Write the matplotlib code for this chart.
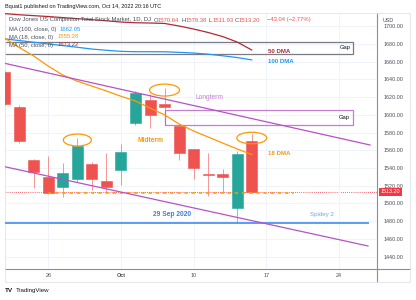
import matplotlib
matplotlib.use('Agg')
import matplotlib.pyplot as plt
from matplotlib.patches import Ellipse, Rectangle
from matplotlib.lines import Line2D

plt.rcParams['font.family'] = ['Liberation Sans', 'DejaVu Sans']

# ---------------- data ----------------
bar_idx = list(range(18))  # Sep 21 ... Oct 14, 2022 (trading days)
opens  = [1648.0, 1608.5, 1549.0, 1529.5, 1519.0, 1527.6, 1544.0, 1525.5, 1538.0,
          1590.5, 1617.0, 1612.0, 1587.4, 1561.0, 1533.0, 1533.0, 1494.5, 1570.64]
highs  = [1649.5, 1611.0, 1550.0, 1553.6, 1546.0, 1573.5, 1547.0, 1557.0, 1567.0,
          1626.5, 1624.0, 1630.0, 1588.5, 1562.0, 1556.6, 1538.6, 1559.5, 1578.38]
lows   = [1611.0, 1568.0, 1517.0, 1510.5, 1507.0, 1524.6, 1515.0, 1513.0, 1521.0,
          1589.0, 1585.0, 1588.5, 1549.0, 1528.0, 1508.4, 1512.0, 1478.0, 1511.93]
closes = [1612.3, 1570.8, 1536.0, 1511.5, 1534.0, 1565.0, 1528.0, 1518.6, 1558.0,
          1625.0, 1600.0, 1608.5, 1556.6, 1540.0, 1532.2, 1530.2, 1556.24, 1513.20]

ma18  = [1686.7, 1676.0, 1666.4, 1655.0, 1645.0, 1638.0, 1632.5, 1627.0, 1621.0,
         1615.6, 1607.7, 1600.0, 1589.7, 1581.8, 1575.0, 1568.2, 1561.5, 1555.28]
ma50  = [1714.3, 1713.0, 1712.0, 1711.0, 1709.8, 1708.6, 1707.5, 1706.2, 1704.8,
         1704.0, 1703.7, 1703.2, 1700.3, 1696.9, 1693.0, 1688.4, 1682.2, 1673.22]
ma100 = [1685.8, 1683.9, 1682.0, 1680.0, 1678.2, 1676.3, 1674.3, 1672.9, 1671.7,
         1671.3, 1671.3, 1671.2, 1670.6, 1669.8, 1668.5, 1666.7, 1664.7, 1662.05]

time_tick_idx = [3, 8, 13, 18, 23]
time_tick_labels = ['26', 'Oct', '10', '17', '24']
price_ticks = list(range(1440, 1701, 20))

# drawings (bar index, price)
longterm_upper = ([0.0, 25.14], [1658.2, 1566.0])
longterm_lower = ([0.0, 25.0], [1541.5, 1452.0])
spidey_level = 1478.3
spidey_span = (0.0, 25.0)
gap_top = (-1.0, 24.0, 1668.4, 1681.9)
gap_low = (11.0, 24.0, 1588.5, 1605.4)
support_level = 1512.3
support_span = (3.0, 19.9)
ellipses = [(5.0, 1571.6, 1.93, 13.5), (11.0, 1628.0, 2.06, 13.5), (17.0, 1573.9, 2.06, 13.0)]
last_close = 1513.20

UP = '#26a69a'
DOWN = '#ef5350'
C18 = '#ff9800'
C50 = '#b22833'
C100 = '#2196f3'
PURP = '#b553c6'

W, H = 416, 300
fig = plt.figure(figsize=(W / 100, H / 100), dpi=100)
fig.patch.set_facecolor('white')

def fx(x):
    return x / W

def fy(y):
    return 1 - y / H

# main chart axes: x 5..377, y 13..269
ax = fig.add_axes([fx(5), fy(269), (377 - 5) / W, (269 - 13) / H])
ax.set_xlim(0.02, 25.62)
ax.set_ylim(1426, 1715)
ax.set_facecolor('white')

# grid
ax.set_xticks(time_tick_idx)
ax.set_xticklabels(time_tick_labels)
ax.set_yticks(price_ticks)
ax.set_yticklabels([f'{v:.2f}' for v in price_ticks])
ax.grid(True, color='#f0f3fa', lw=0.7, zorder=0)
ax.yaxis.tick_right()
ax.tick_params(axis='y', length=0, pad=4.6, labelsize=3.9, labelcolor='#4a4e59')
ax.tick_params(axis='x', length=0, pad=3.0, labelsize=3.9, labelcolor='#4a4e59')
for lab in ax.get_xticklabels():
    if lab.get_text() == 'Oct':
        lab.set_fontweight('bold')
for s in ['left', 'top']:
    ax.spines[s].set_color('#e0e3eb')
    ax.spines[s].set_linewidth(0.6)
for s in ['right', 'bottom']:
    ax.spines[s].set_color('#8a8e99')
    ax.spines[s].set_linewidth(0.8)

# gap boxes
x0, x1, y0, y1 = gap_top
ax.add_patch(Rectangle((x0, y0), x1 - x0, y1 - y0, fill=False, ec='#787b86', lw=0.9, zorder=2))
x0, x1, y0, y1 = gap_low
ax.add_patch(Rectangle((x0, y0), x1 - x0, y1 - y0, fill=False, ec='#c27fd2', lw=0.9, zorder=2))
ax.text(23.83, 1675.6, 'Gap', fontsize=4.2, color='#131722', ha='right', va='center', zorder=6)
ax.text(23.77, 1597.3, 'Gap', fontsize=4.2, color='#131722', ha='right', va='center', zorder=6)

# last close dotted line
ax.axhline(last_close, color='#f23645', lw=0.6, ls=(0, (1, 1.5)), zorder=1)

# support dashed line
ax.plot(support_span, [support_level, support_level], color=C18, lw=1.1,
        ls=(0, (2.2, 2.5)), zorder=5)

# spidey blue level
ax.plot(spidey_span, [spidey_level, spidey_level], color='#5b9cf6', lw=1.4, zorder=3)
ax.text(11.51, 1487, '29 Sep 2020', fontsize=4.8, color='#3d7fe0', ha='center', va='center',
        fontweight='bold', zorder=6)
ax.text(21.8, 1487, 'Spidey 2', fontsize=4.4, color='#6fa4f0', ha='center', va='center', zorder=6)

# candles
for i in bar_idx:
    o, h, l, c = opens[i], highs[i], lows[i], closes[i]
    col = UP if c >= o else DOWN
    ax.vlines(i, l, h, color=col, lw=0.7, alpha=0.6, zorder=3)
    ax.bar(i, c - o, bottom=o, width=0.76, color=col, ec=col, lw=0.4, zorder=4)

# moving averages
ax.plot(bar_idx, ma50, color=C50, lw=0.9, zorder=5)
ax.plot(bar_idx, ma100, color=C100, lw=0.9, zorder=5)
ax.plot(bar_idx, ma18, color=C18, lw=0.9, zorder=5)

# trend lines
ax.plot(*longterm_upper, color=PURP, lw=0.9, zorder=5)
ax.plot(*longterm_lower, color=PURP, lw=0.9, zorder=5)

# ellipses
for (cx, cy, w, hh) in ellipses:
    ax.add_patch(Ellipse((cx, cy), w, hh, fill=False, ec=C18, lw=0.9, zorder=6))

# labels
ax.text(13.1, 1620.1, 'Longterm', fontsize=4.8, color='#c27fd2', ha='left', va='center', zorder=6)
ax.text(9.11, 1571.6, 'Midterm', fontsize=4.8, color=C18, ha='left', va='center',
        fontweight='bold', zorder=6)
ax.text(18.12, 1556.6, '18 DMA', fontsize=4.4, color=C18, ha='left', va='center',
        fontweight='bold', zorder=6)
ax.text(18.12, 1671.3, '50 DMA', fontsize=4.4, color=C50, ha='left', va='center',
        fontweight='bold', zorder=6)
ax.text(18.12, 1660.0, '100 DMA', fontsize=4.4, color=C100, ha='left', va='center',
        fontweight='bold', zorder=6)

# last price label on scale
ax.annotate(f'{last_close:.2f}', xy=(1.0, last_close), xycoords=('axes fraction', 'data'),
            xytext=(2.6, 0), textcoords='offset points', ha='left', va='center',
            fontsize=3.9, color='white', zorder=10, annotation_clip=False,
            bbox=dict(boxstyle='square,pad=0.25', fc='#f23645', ec='none'))

# widget frame lines
fig.add_artist(Line2D([fx(377), fx(410)], [fy(269), fy(269)], color='#8a8e99', lw=0.8))
fig.add_artist(Line2D([fx(377), fx(377)], [fy(269), fy(282)], color='#8a8e99', lw=0.8))
fig.add_artist(Line2D([fx(5), fx(410)], [fy(282), fy(282)], color='#e0e3eb', lw=0.6))
fig.add_artist(Line2D([fx(410), fx(410)], [fy(13), fy(282)], color='#e0e3eb', lw=0.6))
fig.add_artist(Line2D([fx(5), fx(5)], [fy(269), fy(282)], color='#e0e3eb', lw=0.6))
fig.add_artist(Line2D([fx(377), fx(410)], [fy(13), fy(13)], color='#e0e3eb', lw=0.6))

# USD label
fig.text(fx(382.5), fy(20), 'USD', fontsize=3.9, color='#4a4e59', ha='left', va='center')

# header texts
fs_h = 4.2
fig.text(fx(5), fy(6.5), 'Bquat1 published on TradingView.com, Oct 14, 2022 20:16 UTC',
         fontsize=4.0, color='#131722', ha='left', va='center')
fig.text(fx(9), fy(20), 'Dow Jones US Completion Total Stock Market, 1D, DJ',
         fontsize=fs_h, color='#4a4e59', ha='left', va='center')
ohlc = [(154, 'O', '1570.64'), (181.5, 'H', '1578.38'), (208.5, 'L', '1511.93'),
        (234.5, 'C', '1513.20')]
for xp, letter, val in ohlc:
    fig.text(fx(xp), fy(20), letter, fontsize=fs_h, color='#4a4e59', ha='left', va='center')
    fig.text(fx(xp + 3.6), fy(20), val, fontsize=fs_h, color='#ef5350', ha='left', va='center')
fig.text(fx(267), fy(20), '\u221243.04 (\u22122.77%)', fontsize=fs_h, color='#ef5350',
         ha='left', va='center')

ma_rows = [(29.3, 'MA (100, close, 0)', '1662.05', C100, 59.3),
           (37.0, 'MA (18, close, 0)', '1555.28', C18, 57.3),
           (45.0, 'MA (50, close, 0)', '1673.22', C50, 57.3)]
for yp, lab, val, col, xv in ma_rows:
    fig.text(fx(9), fy(yp), lab, fontsize=fs_h, color='#4a4e59', ha='left', va='center')
    fig.text(fx(xv), fy(yp), val, fontsize=fs_h, color=col, ha='left', va='center')

# footer
fig.text(fx(5), fy(290.5), 'TV', fontsize=4.6, color='#131722', ha='left', va='center',
         fontweight='heavy')
fig.text(fx(16), fy(290.5), 'TradingView', fontsize=4.4, color='#131722', ha='left', va='center')

fig.savefig('out.png', dpi=100)
